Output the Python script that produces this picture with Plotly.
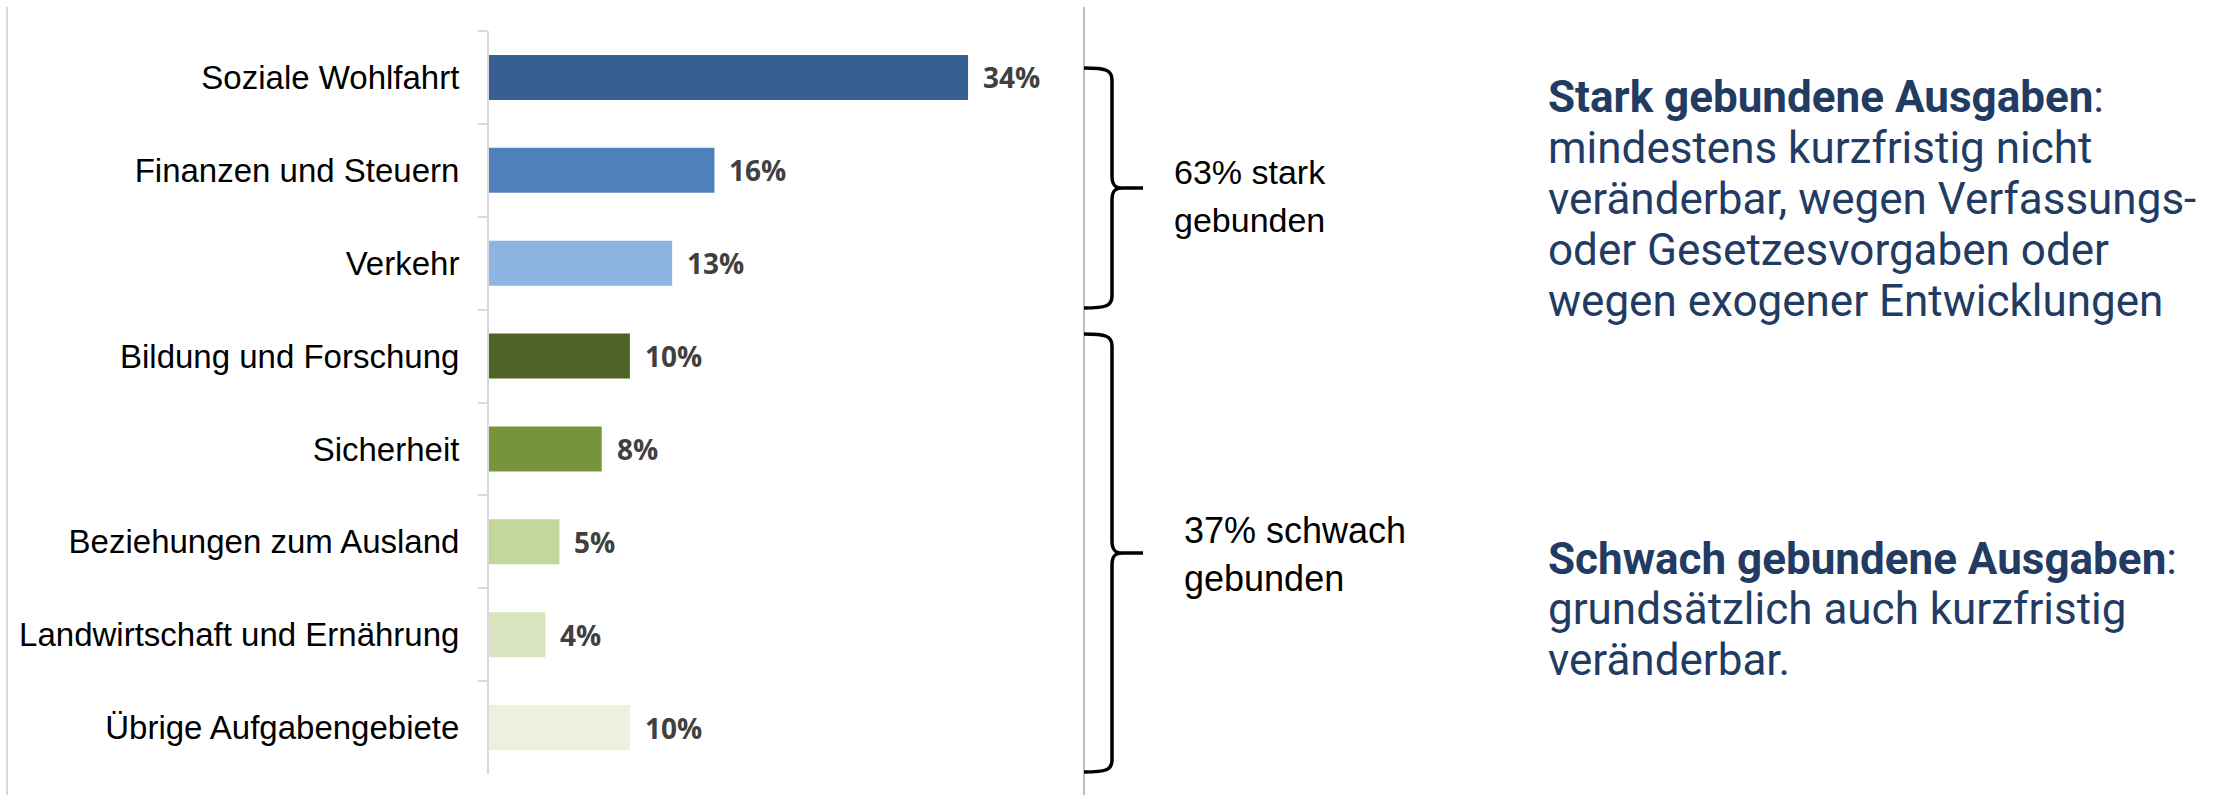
import plotly.graph_objects as go

# Ausgaben nach Aufgabengebiet (Anteil in %)
categories = [
    "Soziale Wohlfahrt",
    "Finanzen und Steuern",
    "Verkehr",
    "Bildung und Forschung",
    "Sicherheit",
    "Beziehungen zum Ausland",
    "Landwirtschaft und Ernährung",
    "Übrige Aufgabengebiete",
]
shares = [34, 16, 13, 10, 8, 5, 4, 10]
bar_colors = ["#375F91", "#4F81BD", "#8EB4E3", "#4F6228",
              "#77933C", "#C3D69B", "#D7E4BD", "#EBF1DE"]

group_labels = [["63% stark", "gebunden"], ["37% schwach", "gebunden"]]
note_strong = ["<b>Stark gebundene Ausgaben</b>:",
               "mindestens kurzfristig nicht",
               "veränderbar, wegen Verfassungs-",
               "oder Gesetzesvorgaben oder",
               "wegen exogener Entwicklungen"]
note_weak = ["<b>Schwach gebundene Ausgaben</b>:",
             "grundsätzlich auch kurzfristig",
             "veränderbar."]

W, H = 2234, 795


def px(x):
    return x / W


def py(y):
    return 1 - y / H


fig = go.Figure()
fig.add_trace(go.Bar(
    x=shares,
    y=categories,
    orientation="h",
    marker=dict(color=bar_colors, line=dict(width=0)),
    hoverinfo="skip",
))

annotations = []
# value labels next to each bar
for cat, v in zip(categories, shares):
    annotations.append(dict(
        x=v, y=cat, xref="x", yref="y", text=f"{v}%", showarrow=False,
        xanchor="left", yanchor="middle", xshift=13,
        font=dict(family="Open Sans", size=28, color="#404040", weight="bold"),
    ))

# group labels beside the braces
for (l1, l2), x0, ys, fs in [(group_labels[0], 1172, (172, 220), 34),
                             (group_labels[1], 1182, (530, 578), 36)]:
    for txt, yy in zip((l1, l2), ys):
        annotations.append(dict(
            x=px(x0), y=py(yy), xref="paper", yref="paper", text=txt,
            showarrow=False, xanchor="left", yanchor="middle",
            font=dict(family="Liberation Sans, Arial", size=fs, color="#000000"),
        ))

# explanatory notes on the right
navy = "#223B63"
for lines, ys in [(note_strong, [97, 148, 199, 250, 301]),
                  (note_weak, [559, 609, 660])]:
    for txt, yy in zip(lines, ys):
        annotations.append(dict(
            x=px(1546), y=py(yy), xref="paper", yref="paper", text=txt,
            showarrow=False, xanchor="left", yanchor="middle",
            font=dict(family="Roboto", size=44, color=navy),
        ))


def brace(top, bottom, tip, xl=1084, xv=1112, xt=1143, r=12):
    pts = [
        f"M {px(xl)},{py(top)}",
        f"C {px(xv - 6)},{py(top)} {px(xv)},{py(top + 2)} {px(xv)},{py(top + r)}",
        f"L {px(xv)},{py(tip - r)}",
        f"C {px(xv)},{py(tip - 3)} {px(xv + 3)},{py(tip)} {px(xv + 10)},{py(tip)}",
        f"L {px(xt)},{py(tip)}",
        f"M {px(xv + 10)},{py(tip)}",
        f"C {px(xv + 3)},{py(tip)} {px(xv)},{py(tip + 3)} {px(xv)},{py(tip + r)}",
        f"L {px(xv)},{py(bottom - r)}",
        f"C {px(xv)},{py(bottom - 2)} {px(xv - 6)},{py(bottom)} {px(xl)},{py(bottom)}",
    ]
    return dict(type="path", xref="paper", yref="paper", path=" ".join(pts),
                line=dict(color="#000000", width=3.5))


shapes = [
    # frame lines of the chart panel
    dict(type="line", xref="paper", yref="paper", x0=px(7), x1=px(7),
         y0=py(7), y1=py(H), line=dict(color="#D9D9D9", width=2)),
    dict(type="line", xref="paper", yref="paper", x0=px(1084), x1=px(1084),
         y0=py(7), y1=py(H), line=dict(color="#BFBFBF", width=2)),
    brace(68, 308, 188),
    brace(334, 772, 553),
]

fig.update_layout(
    width=W, height=H,
    margin=dict(l=0, r=0, t=0, b=0),
    paper_bgcolor="#FFFFFF", plot_bgcolor="#FFFFFF",
    showlegend=False,
    bargap=0.515,
    xaxis=dict(domain=[px(489), px(1084)], range=[0, (1084 - 489) / 14.09],
               visible=False, fixedrange=True),
    yaxis=dict(domain=[py(774), py(31)], autorange="reversed",
               showline=True, linecolor="#D9D9D9", linewidth=2,
               ticks="outside", ticklen=9, tickwidth=2, tickcolor="#D9D9D9",
               tickson="boundaries", ticklabelstandoff=21,
               showgrid=False, zeroline=False,
               tickfont=dict(family="Liberation Sans, Arial", size=33, color="#000000")),
    annotations=annotations,
    shapes=shapes,
)

fig.write_html("out.html")
